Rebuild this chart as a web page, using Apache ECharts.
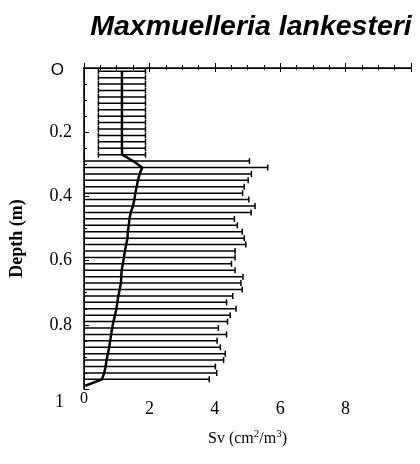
<!DOCTYPE html>
<html><head><meta charset="utf-8">
<script src="https://cdn.jsdelivr.net/npm/echarts@6/dist/echarts.min.js"></script>
<style>html,body{margin:0;padding:0;background:#fff}#c{width:420px;height:464px}</style>
</head><body><div id="c"></div>
<script>
const depths = [0.01,0.03,0.05,0.07,0.09,0.11,0.13,0.15,0.17,0.19,0.21,0.23,0.25,0.27,
  0.29,0.31,0.33,0.35,0.37,0.39,0.41,0.43,0.45,0.47,0.49,0.51,0.53,0.55,0.57,0.59,0.61,0.63,0.65,0.67,0.69,
  0.71,0.73,0.75,0.77,0.79,0.81,0.83,0.85,0.87,0.89,0.91,0.93,0.95,0.97];
const meanSv = [1.16,1.16,1.16,1.16,1.16,1.16,1.16,1.16,1.16,1.16,1.16,1.16,1.16,1.17,
  1.50,1.78,1.70,1.65,1.61,1.57,1.54,1.50,1.43,1.39,1.37,1.34,1.33,1.29,1.25,1.22,1.19,1.15,1.14,1.13,1.09,
  1.05,1.02,0.99,0.95,0.90,0.86,0.83,0.80,0.77,0.73,0.69,0.66,0.62,0.55];
const lowerSv = [0.44,0.44,0.44,0.44,0.44,0.44,0.44,0.44,0.44,0.44,0.44,0.44,0.44,0.44,
  0,0,0,0,0,0,0,0,0,0,0,0,0,0,0,0,0,0,0,0,0,0,0,0,0,0,0,0,0,0,0,0,0,0,0];
const upperSv = [1.88,1.88,1.88,1.88,1.88,1.88,1.88,1.88,1.88,1.88,1.88,1.88,1.88,1.88,
  5.06,5.62,5.12,5.02,4.90,4.85,5.04,5.23,5.11,4.60,4.69,4.84,4.90,4.95,4.62,4.62,4.51,4.62,4.86,4.80,4.84,
  4.55,4.36,4.65,4.47,4.39,4.11,4.36,4.07,4.17,4.32,4.27,4.02,4.06,3.83];
const endDepth = 0.99, endMean = 0.04;
const xTicks = [0,2,4,6,8];
const yTicks = [0,0.2,0.4,0.6,0.8,1];

const chart = echarts.init(document.getElementById('c'));
const barData = depths.map((d,i)=>[d, lowerSv[i], upperSv[i]]);
const lineData = depths.map((d,i)=>[meanSv[i], d]).concat([[endMean, endDepth]]);
const serif = 'Liberation Serif';
chart.setOption({
  animation:false,
  title:{text:'Maxmuelleria lankesteri', left:246, top:8, textAlign:'center',
    textStyle:{fontFamily:'Liberation Sans', fontStyle:'italic', fontWeight:'bold', fontSize:28.5, color:'#000'}},
  grid:{left:82, right:9, top:68, bottom:75},
  xAxis:[{type:'value', min:0, max:10, interval:2, position:'bottom',
    axisLine:{lineStyle:{color:'#000', width:1.5}},
    axisTick:{inside:true, length:5, lineStyle:{color:'#000'}},
    minorTick:{show:true, splitNumber:4, length:3, lineStyle:{color:'#000'}},
    splitLine:{show:false},
    axisLabel:{margin:2, fontFamily:serif, fontSize:18, color:'#000',
      formatter:v=> xTicks.includes(v) ? (v===0 ? '{z|0}' : '{n|' + v + '}') : '',
      rich:{z:{fontFamily:serif, fontSize:16, color:'#000'},
            n:{fontFamily:serif, fontSize:18, color:'#000', padding:[9,0,0,0]}}},
    name:'Sv (cm{s|2}/m{s|3})', nameLocation:'middle', nameGap:40,
    nameTextStyle:{fontFamily:serif, fontSize:16, color:'#000',
      rich:{s:{fontFamily:serif, fontSize:11, color:'#000', verticalAlign:'top', padding:[0,0,8,0]}}}},
   {type:'value', min:0, max:10, interval:2, position:'top',
    axisLine:{lineStyle:{color:'#000', width:1}},
    axisTick:{inside:true, length:4, lineStyle:{color:'#000'}},
    minorTick:{show:true, splitNumber:4, length:2, lineStyle:{color:'#000'}},
    splitLine:{show:false}, axisLabel:{show:false}}],
  yAxis:[{type:'value', inverse:true, min:0, max:1, interval:0.2, position:'left',
    axisLine:{lineStyle:{color:'#000', width:1.5}},
    axisTick:{inside:true, length:5, lineStyle:{color:'#000'}},
    minorTick:{show:true, splitNumber:4, length:3, lineStyle:{color:'#000'}},
    splitLine:{show:false},
    axisLabel:{margin:12, fontFamily:serif, fontSize:18, color:'#000',
      formatter:v=> v===0 ? '{o|O}' : (v===1 ? '{one|1}' : String(v)),
      rich:{o:{fontFamily:'Liberation Sans', fontSize:17, color:'#000', padding:[4,8,0,0]},
            one:{fontFamily:serif, fontSize:18, color:'#000', padding:[26,8,0,0]}}},
    name:'Depth (m)', nameLocation:'middle', nameGap:58, nameRotate:90,
    nameTextStyle:{fontFamily:serif, fontWeight:'bold', fontSize:18, color:'#000', padding:[0,20,0,0]}},
   {type:'value', inverse:true, min:0, max:1, interval:0.2, position:'right',
    axisLine:{lineStyle:{color:'#000', width:1}},
    axisTick:{show:false}, splitLine:{show:false}, axisLabel:{show:false}}],
  series:[
    {type:'custom', xAxisIndex:0, yAxisIndex:0, data:barData, clip:true,
     encode:{x:[1,2], y:0},
     renderItem:(params, api)=>{
       const d = api.value(0), lo = api.value(1), hi = api.value(2);
       const p1 = api.coord([lo, d]), p2 = api.coord([hi, d]);
       const st = {stroke:'#000', lineWidth:1.5};
       const ch = [
         {type:'line', shape:{x1:p1[0], y1:p1[1], x2:p2[0], y2:p2[1]}, style:st},
         {type:'line', shape:{x1:p2[0], y1:p2[1]-3, x2:p2[0], y2:p2[1]+3}, style:st}];
       if (lo > 0) ch.push({type:'line', shape:{x1:p1[0], y1:p1[1]-3, x2:p1[0], y2:p1[1]+3}, style:st});
       return {type:'group', children:ch};
     }},
    {type:'line', xAxisIndex:0, yAxisIndex:0, data:lineData, showSymbol:false, symbol:'none',
     lineStyle:{color:'#000', width:2.5}, z:5}
  ]
});
</script></body></html>
